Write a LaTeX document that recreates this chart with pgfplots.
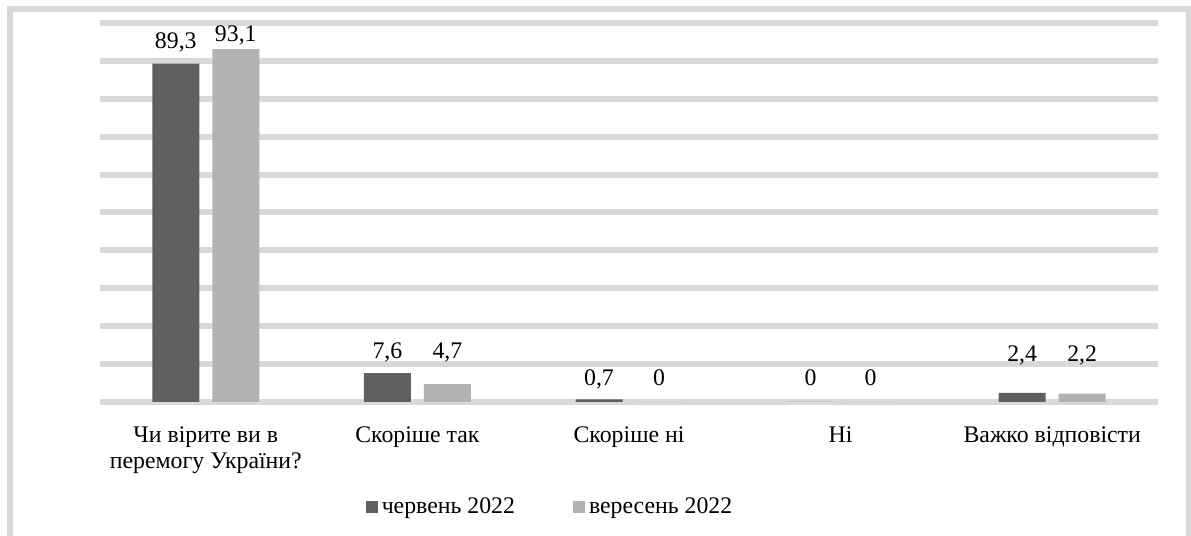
\documentclass[border=0pt]{standalone}
\usepackage{pgfplots}
\pgfplotsset{compat=1.18}
\usepackage{fontspec}
\setmainfont{Liberation Serif}
\definecolor{darkbar}{RGB}{96,96,96}
\definecolor{lightbar}{RGB}{178,178,178}
\definecolor{gridc}{RGB}{217,217,217}
\begin{document}
\fontsize{11.9}{12.5}\selectfont
\begin{tikzpicture}[x=1pt,y=1pt]
\useasboundingbox (0,0) rectangle (595.5,268);
\begin{scope}
\clip (0,0) rectangle (595.5,268);
\draw[gridc, line width=3pt] (5,-2) rectangle (594.5,263.5);
\end{scope}
\begin{axis}[
  at={(102.9pt,67pt)}, anchor=origin,
  scale only axis, width=529pt, height=189.5pt,
  xmin=-0.5, xmax=4.5, ymin=0, ymax=100,
  clip=false,
  axis line style={draw=none},
  xtick={0,1,2,3,4},
  xticklabels={{Чи вірите ви в\\перемогу України?},{Скоріше так},{Скоріше ні},{Ні},{Важко відповісти}},
  xticklabel style={align=center, anchor=north, inner sep=0pt, yshift=-12pt, font=\fontsize{11.9}{13.2}\selectfont},
  major tick length=0pt,
  ytick={0,10,...,100}, yticklabels={},
  ymajorgrids, grid style={gridc, line width=3pt},
  bar width=23.5pt,
  legend style={at={(0.4263,-0.278)}, anchor=center, draw=none, fill=none,
    legend columns=2, font=\fontsize{11.9}{12.5}\selectfont,
    /tikz/every even column/.append style={column sep=27pt},
    legend cell align=left, inner sep=0pt},
  legend image code/.code={\fill[#1] (0pt,-3pt) rectangle (6pt,3pt);},
]
\addplot[ybar, bar shift=-15pt, fill=darkbar, draw=none] coordinates {(0,89.3) (1,7.6) (2,0.7) (3,0) (4,2.4)};
\addlegendentry{червень 2022}
\addplot[ybar, bar shift=15pt, fill=lightbar, draw=none] coordinates {(0,93.1) (1,4.7) (2,0) (3,0) (4,2.2)};
\addlegendentry{вересень 2022}
\node[anchor=base, xshift=-15pt] at (axis cs:0,93.4) {89,3};
\node[anchor=base, xshift=15pt] at (axis cs:0,95.0) {93,1};
\node[anchor=base, xshift=-15pt] at (axis cs:1,11.6) {7,6};
\node[anchor=base, xshift=15pt] at (axis cs:1,11.6) {4,7};
\node[anchor=base, xshift=-15pt] at (axis cs:2,4.4) {0,7};
\node[anchor=base, xshift=15pt] at (axis cs:2,4.4) {0};
\node[anchor=base, xshift=-15pt] at (axis cs:3,4.4) {0};
\node[anchor=base, xshift=15pt] at (axis cs:3,4.4) {0};
\node[anchor=base, xshift=-15pt] at (axis cs:4,10.8) {2,4};
\node[anchor=base, xshift=15pt] at (axis cs:4,10.8) {2,2};
\end{axis}
\end{tikzpicture}
\end{document}
